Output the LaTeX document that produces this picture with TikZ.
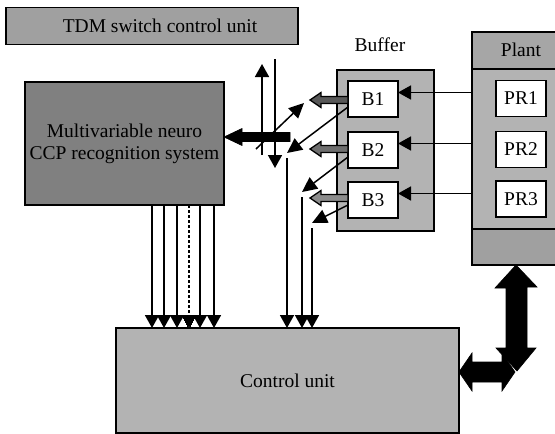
\documentclass[tikz,border=0pt]{standalone}
\usepackage{fontspec}
\setmainfont{Liberation Serif}
\usetikzlibrary{arrows.meta,calc}
\definecolor{tdmgray}{HTML}{A0A0A0}
\definecolor{neurogray}{HTML}{808080}
\definecolor{lightgray2}{HTML}{B3B3B3}
\definecolor{headgray}{HTML}{A6A6A6}
\definecolor{bandgray}{HTML}{A0A0A0}
\definecolor{gA}{HTML}{585858}
\definecolor{gB}{HTML}{6E6E6E}
\definecolor{gC}{HTML}{8C8C8C}
\begin{document}
\begin{tikzpicture}[x=1pt,y=-1pt,
  box/.style={draw=black,line width=1.9pt,inner sep=0pt,outer sep=0pt,rectangle,
    font=\fontsize{19.5}{22}\selectfont},
  wbox/.style={box,fill=white,minimum width=50,minimum height=36},
  lbl/.style={inner sep=0pt,font=\fontsize{19.5}{22}\selectfont,align=center},
  thinarrow/.style={line width=1.7pt,-{Triangle[length=13pt,width=14pt]}},
  diagarrow/.style={line width=1.5pt,-{Triangle[length=15pt,width=14pt]}},
  fatshape/.style={fill=black,draw=black,line width=0.6pt,line join=miter},
  hollow/.style={draw=black,line width=1.3pt,line join=miter}]
\useasboundingbox (0,0) rectangle (555,434);

% boxes
\node[box,fill=tdmgray,minimum width=292,minimum height=37] (tdm) at (152,26) {};
\node[lbl] at ($(tdm.center)+(8,0)$) {TDM switch control unit};

\node[box,fill=neurogray,minimum width=199,minimum height=123] (neuro) at (124.5,143.5) {};
\node[lbl] at (neuro.center) {Multivariable neuro\\CCP recognition system};

\node[box,fill=lightgray2,minimum width=97,minimum height=161] (buffer) at (385.5,150.5) {};
\node[lbl] at (380,45) {Buffer};
\node[wbox] (B1) at (373,99) {B1};
\node[wbox] (B2) at (373,150) {B2};
\node[wbox] (B3) at (373,200) {B3};

\node[box,fill=lightgray2,minimum width=88,minimum height=233] (plant) at (516,148.5) {};
\draw[box,fill=headgray] (plant.north west) rectangle ($(plant.north east)+(0,37)$);
\draw[box,fill=bandgray] ($(plant.south west)+(0,-36)$) rectangle (plant.south east);
\node[lbl] at (521,50) {Plant};
\node[wbox] (PR1) at (521,98.5) {PR1};
\node[wbox] (PR2) at (521,149.5) {PR2};
\node[wbox] (PR3) at (521,199) {PR3};

\node[box,fill=lightgray2,minimum width=343,minimum height=105] (ctrl) at (287.5,380.5) {};
\node[lbl] at (ctrl.center) {Control unit};

% plant -> buffer arrows
\foreach \b in {1,2,3}{
  \coordinate (pb\b) at ($(B\b.east)+(0,-6.5)$);
  \draw[thinarrow] (pb\b -| plant.west) -- (pb\b);
}

% hollow gray arrows from buffers
\foreach \b/\c/\dy in {1/gA/1,2/gB/-1,3/gC/-2}{
  \coordinate (hb\b) at ($(B\b.west)+(0,\dy)$);
  \draw[hollow,fill=\c] ($(hb\b)+(0,-3.5)$) -- ($(hb\b)+(-27,-3.5)$) -- ($(hb\b)+(-27,-7.5)$)
     -- ($(hb\b)+(-38,0)$) -- ($(hb\b)+(-27,7.5)$) -- ($(hb\b)+(-27,3.5)$) -- ($(hb\b)+(0,3.5)$) -- cycle;
}

% diagonal arrows from buffers and vertical arrows to control unit
\coordinate (d1) at (287,153);
\coordinate (d2) at (302,192);
\coordinate (d3) at (312,223);
\draw[diagarrow] ($(B1.south west)+(0,-10)$) -- (d1);
\draw[diagarrow] ($(B2.south west)+(0,-11)$) -- (d2);
\draw[diagarrow] ($(B3.south west)+(0,-13)$) -- (d3);
\foreach \i in {1,2,3}{
  \draw[thinarrow] ($(d\i)+(0,5)$) -- (d\i |- ctrl.north);
}

% neuro -> control arrows
\foreach \x in {152,164,177,200,214}{
  \draw[thinarrow] (\x,0 |- neuro.south) -- (\x,0 |- ctrl.north);
}
\draw[line width=1.7pt,dash pattern=on 3pt off 2pt] (189,0 |- neuro.south) -- (189,316);
\draw[line width=0pt,fill=black] (182,315) -- (196,315) -- (189,328) -- cycle;

% TDM switch
\coordinate (su) at (262,155);
\coordinate (sut) at (262,64);
\coordinate (sd) at (275,59);
\coordinate (sdt) at (275,168);
\draw[thinarrow] (su) -- (sut);
\draw[thinarrow] (sd) -- (sdt);
\coordinate (sx) at (256,149);
\coordinate (sxt) at (304,103);
\draw[diagarrow] (sx) -- (sxt);
\coordinate (fa) at (290,137);
\draw[fatshape] (fa) ++(0,-4.5) -- ++(-48,0) -- ++(0,-4) -- (neuro.east |- fa) -- ++(18,8.5) -- ++(0,-4) -- ++(48,0) -- cycle;

% plant <-> control fat double arrows
\coordinate (vt) at (516,0 |- plant.south);
\coordinate (vb) at (517,371);
\draw[fatshape] (vt) -- ++(21,22) -- ++(-10,0) -- (527,348) -- (536,348) -- (vb)
   -- (496,348) -- (506,348) -- (506,288) -- (495,288) -- cycle;
\coordinate (hl) at (ctrl.east |- 0,372);
\draw[fatshape] (hl) -- ++(13,-19) -- ++(0,9) -- (502,362) -- (502,353) -- (515,372)
   -- (502,391) -- (502,382) -- (472,382) -- (472,391) -- cycle;
\end{tikzpicture}
\end{document}
